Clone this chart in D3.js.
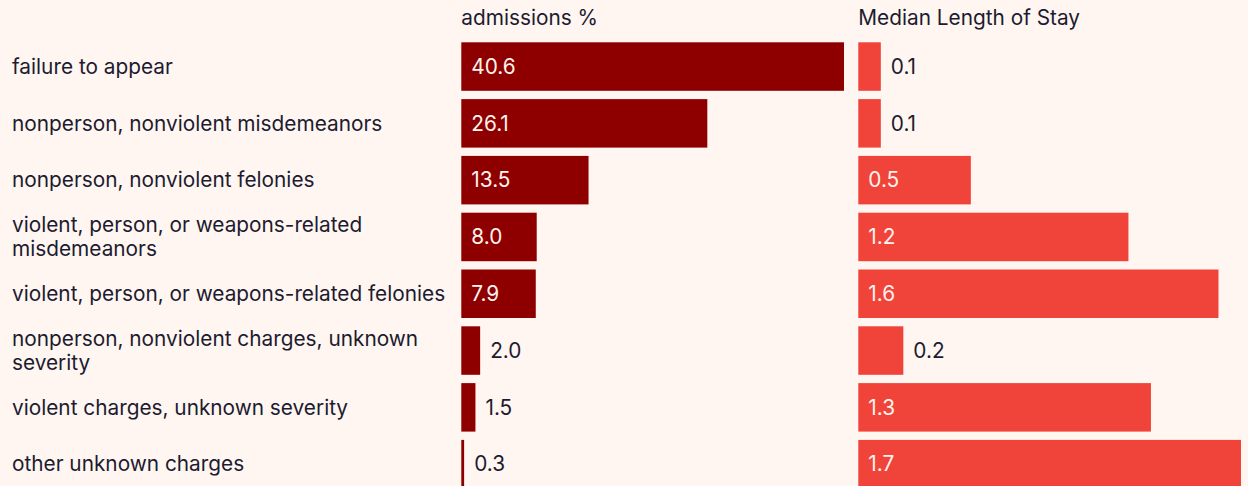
<!DOCTYPE html>
<html>
<head>
<meta charset="utf-8">
<script src="https://cdn.jsdelivr.net/npm/d3@7"></script>
<style>
  html, body { margin: 0; padding: 0; background: #fff6f1; }
  svg { display: block; }
  text { font-family: Inter, "Noto Sans", sans-serif; }
</style>
</head>
<body>
<svg id="chart" width="1248" height="486"></svg>
<script>
const categories = [
  "failure to appear",
  "nonperson, nonviolent misdemeanors",
  "nonperson, nonviolent felonies",
  "violent, person, or weapons-related\nmisdemeanors",
  "violent, person, or weapons-related felonies",
  "nonperson, nonviolent charges, unknown\nseverity",
  "violent charges, unknown severity",
  "other unknown charges"
];
const admissions = [40.6, 26.1, 13.5, 8.0, 7.9, 2.0, 1.5, 0.3];
const medianStay = [0.1, 0.1, 0.5, 1.2, 1.6, 0.2, 1.3, 1.7];
const headers = ["admissions %", "Median Length of Stay"];

const W = 1248, H = 486;
const svg = d3.select("#chart");
svg.append("rect").attr("width", W).attr("height", H).attr("fill", "#fff6f1");

const rowStep = 56.8, barH = 48.5, rowTop = 42.3;
const y = d3.scaleBand().domain(categories)
  .range([rowTop, rowTop + rowStep * (categories.length - 1) + barH])
  .paddingInner((rowStep - barH) / rowStep).paddingOuter(0);
const xA = d3.scaleLinear().domain([0, d3.max(admissions)]).range([461.3, 844]);
const xM = d3.scaleLinear().domain([0, d3.max(medianStay)]).range([858.3, 1241]);

const textColor = "#1d1b30";
const fs = 20.8;

// category labels
const lab = svg.append("g");
categories.forEach(c => {
  const lines = c.split("\n");
  const cy = y(c) + y.bandwidth() / 2;
  const lh = 24.5;
  const t = lab.append("text")
    .attr("x", 12)
    .attr("font-size", fs)
    .attr("fill", textColor);
  lines.forEach((ln, i) => {
    t.append("tspan")
      .attr("x", 12)
      .attr("y", cy + (i - (lines.length - 1) / 2) * lh)
      .attr("dy", "0.35em")
      .text(ln);
  });
});

// headers
svg.append("text").attr("x", xA(0)).attr("y", 25).attr("font-size", fs).attr("fill", textColor).text(headers[0]);
svg.append("text").attr("x", xM(0)).attr("y", 25).attr("font-size", fs).attr("fill", textColor).text(headers[1]);

function panel(values, x, color) {
  const g = svg.append("g");
  g.selectAll("rect").data(values).join("rect")
    .attr("x", x(0))
    .attr("y", (d, i) => y(categories[i]))
    .attr("width", d => x(d) - x(0))
    .attr("height", y.bandwidth())
    .attr("fill", color);
  g.selectAll("text").data(values).join("text")
    .attr("x", d => (x(d) - x(0) > 60) ? x(0) + 10 : x(d) + 10)
    .attr("y", (d, i) => y(categories[i]) + y.bandwidth() / 2)
    .attr("dy", "0.35em")
    .attr("font-size", fs)
    .attr("fill", d => (x(d) - x(0) > 60) ? "#fff3ee" : textColor)
    .text(d => d3.format(".1f")(d));
}
panel(admissions, xA, "#8e0000");
panel(medianStay, xM, "#f0443a");
</script>
</body>
</html>
